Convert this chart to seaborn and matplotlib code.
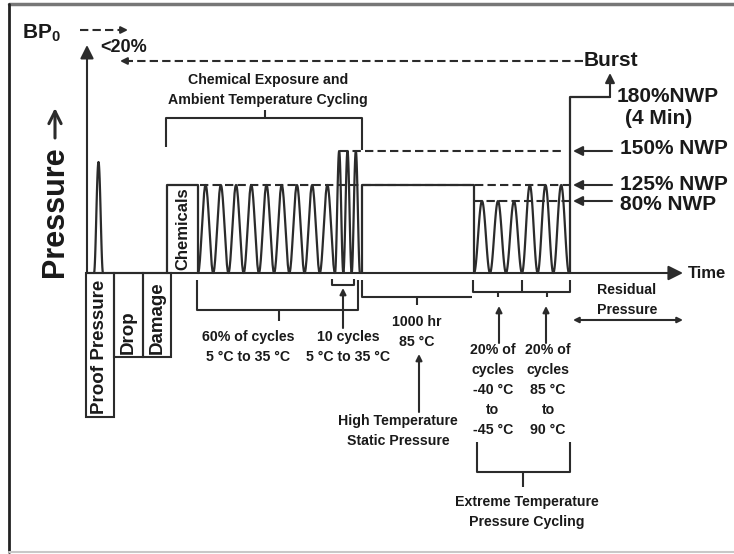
import numpy as np
import pandas as pd
import matplotlib
matplotlib.use("Agg")
import matplotlib.pyplot as plt
import seaborn as sns
from matplotlib.patches import Rectangle

sns.set_theme(style="white")
plt.rcParams["font.family"] = ["Liberation Sans", "DejaVu Sans"]

INK = "#2b2b2b"

# schematic pressure levels (height above the time axis)
level_labels = ["150% NWP", "125% NWP", "80% NWP"]
level_heights = [122, 88, 72]
peak_180 = 176
burst_level = 212
bp0_level = 243
proof_peak = 111

# cycling phases: start / end on the time axis, number of cycles, peak level
phase_names = ["60% of cycles", "10 cycles", "-40 to -45", "85 to 90"]
phase_start = [111, 248, 387, 435]
phase_end = [248, 273, 435, 482]
phase_cycles = [9, 3, 3, 3]
phase_peak = [88, 122, 72, 88]

# flat phases (chemicals exposure, 1000 hr static pressure)
block_names = ["Chemicals", "1000 hr"]
block_start = [80, 275]
block_end = [111, 387]
block_level = [88, 88]

proof_start, proof_end = 7, 16
burst_t, burst_end = 483, 523

# label boxes below the time axis
box_labels = ["Proof Pressure", "Drop", "Damage"]
box_left = [-1, 27, 56]
box_right = [27, 56, 84]
box_depth = [144, 84, 84]


def cycles(start, end, n, peak):
    t = np.linspace(start, end, n * 40 + 1)
    p = peak * (1 - np.cos(2 * np.pi * n * (t - start) / (end - start))) / 2
    return t, p


def main():
    fig = plt.figure(figsize=(7.34, 5.54), dpi=100)
    ax = fig.add_axes([0, 0, 1, 1])

    # pressure trace
    segs = []
    t, p = cycles(proof_start, proof_end, 1, proof_peak)
    segs.append(pd.DataFrame({"t": t, "p": p, "seg": "proof"}))
    for name, s, e, n, pk in zip(phase_names, phase_start, phase_end, phase_cycles, phase_peak):
        t, p = cycles(s, e, n, pk)
        segs.append(pd.DataFrame({"t": t, "p": p, "seg": name}))
    for name, s, e, lv in zip(block_names, block_start, block_end, block_level):
        segs.append(pd.DataFrame({"t": [s, s, e, e], "p": [0, lv, lv, 0], "seg": name}))
    segs.append(pd.DataFrame({"t": [burst_t, burst_t, burst_end],
                              "p": [0, peak_180, peak_180], "seg": "burst"}))
    trace = pd.concat(segs, ignore_index=True)
    sns.lineplot(data=trace, x="t", y="p", units="seg", estimator=None, sort=False,
                 color=INK, lw=1.6, ax=ax, legend=False)

    ax.set_xlim(-87, 647)
    ax.set_ylim(-281, 273)
    ax.axis("off")

    def X(px):
        return px - 87

    def Y(py):
        return 273 - py

    def line(xs, ys, **kw):
        kw.setdefault("color", INK)
        kw.setdefault("lw", 1.5)
        ax.plot([X(v) for v in xs], [Y(v) for v in ys], solid_capstyle="butt", **kw)

    def arrow(x0, y0, x1, y1, style="-|>", ms=12, lw=1.5):
        ax.annotate("", xy=(x1, y1), xytext=(x0, y0),
                    arrowprops=dict(arrowstyle=style, color=INK, lw=lw,
                                    mutation_scale=ms, shrinkA=0, shrinkB=0))

    def text(px, py_first, s, step=20):
        for i, ln in enumerate(s.split("\n")):
            ax.text(X(px), Y(py_first + i * step), ln, fontsize=10.2, fontweight="bold",
                    color="#1a1a1a", ha="center", va="center")

    def big(x, y, s, size=15, **kw):
        kw.setdefault("ha", "left")
        kw.setdefault("va", "center")
        ax.text(x, y, s, fontsize=size, fontweight="bold", color="#1a1a1a", **kw)

    # axes
    arrow(0, 0, 0, 228, ms=20)
    arrow(-1, 0, 596, 0, ms=22)

    # dashed reference levels
    dash = dict(ls=(0, (4, 2)), lw=1.5, color=INK)
    ax.plot([113, 483], [level_heights[1]] * 2, **dash)
    ax.plot([253, 478], [level_heights[0]] * 2, **dash)
    ax.plot([387, 483], [level_heights[2]] * 2, **dash)
    ax.plot([496, 40], [burst_level] * 2, **dash)
    arrow(42, burst_level, 33, burst_level, ms=10)
    ax.plot([-7, 34], [bp0_level] * 2, **dash)
    arrow(32, bp0_level, 41, bp0_level, ms=10)

    # burst arrow
    arrow(burst_end, peak_180, burst_end, burst_level - 12, ms=14)

    # right-hand level arrows and labels
    for lab, h, dy in zip(level_labels, level_heights, [2, 0, -4]):
        arrow(525, h, 486, h, ms=14)
        big(533, h + dy, lab)
    big(530, peak_180, "180%NWP")
    big(538, peak_180 - 22, "(4 Min)")
    big(497, burst_level + 1, "Burst")
    big(-65, bp0_level - 3, r"BP$_\mathregular{0}$")
    big(13, 225, "<20%", size=13)
    big(601, 0, "Time", size=12)

    # y axis title with its arrow
    big(-32, -4, "Pressure", size=22, rotation=90, ha="center", va="bottom")
    ax.annotate("", xy=(X(55), Y(108)), xytext=(X(55), Y(138)),
                arrowprops=dict(arrowstyle="->", color=INK, lw=2.2, mutation_scale=22,
                                shrinkA=0, shrinkB=0))

    # chemicals label inside its block
    ax.text((block_start[0] + block_end[0]) / 2, block_level[0] / 2, block_names[0],
            fontsize=12, fontweight="bold", color="#1a1a1a", rotation=90,
            ha="center", va="center")

    # boxes under the axis
    for lab, l, r, d in zip(box_labels, box_left, box_right, box_depth):
        ax.add_patch(Rectangle((l, -d), r - l, d, fill=False, ec=INK, lw=1.5))
        ax.text((l + r) / 2, -d + 3, lab, fontsize=13.5, fontweight="bold",
                color="#1a1a1a", rotation=90, ha="center", va="bottom")

    # top bracket
    line([166, 166, 362, 362], [147, 118, 118, 150])
    line([265, 265], [110, 118])
    text(268, 80, "Chemical Exposure and\nAmbient Temperature Cycling")

    # 60% cycles bracket
    line([197, 197, 358, 358], [280, 310, 310, 280])
    line([279, 279], [310, 321])
    text(248, 337, "60% of cycles\n5 \u00b0C to 35 \u00b0C")

    # 10 cycles bracket
    line([332, 332, 354, 354], [279, 285, 285, 279])
    arrow(X(343), Y(328), X(343), Y(288), ms=9)
    text(348, 337, "10 cycles\n5 \u00b0C to 35 \u00b0C")

    # 1000 hr bracket
    line([362, 362, 472], [280, 297, 297])
    line([417, 417], [297, 305])
    text(417, 322, "1000 hr\n85 \u00b0C")
    arrow(X(419), Y(412), X(419), Y(354), ms=9)
    text(398, 421, "High Temperature\nStatic Pressure")

    # extreme temperature brackets
    line([473, 473, 570, 570], [280, 292, 292, 280])
    line([522, 522], [280, 292])
    line([498, 498], [292, 297])
    line([547, 547], [292, 297])
    arrow(X(499), Y(343), X(499), Y(306), ms=9)
    arrow(X(546), Y(343), X(546), Y(306), ms=9)
    text(493, 350, "20% of\ncycles\n-40 \u00b0C\nto\n-45 \u00b0C")
    text(548, 350, "20% of\ncycles\n85 \u00b0C\nto\n90 \u00b0C")

    line([477, 477, 570, 570], [442, 472, 472, 442])
    line([523, 523], [472, 487])
    text(527, 502, "Extreme Temperature\nPressure Cycling")

    # residual pressure
    text(627, 290, "Residual\nPressure")
    arrow(X(600), Y(320), X(573), Y(320), ms=8)
    arrow(X(600), Y(320), X(683), Y(320), ms=8)

    # picture frame
    fig.add_artist(plt.Line2D([9 / 734, 1], [1 - 4 / 554] * 2,
                              transform=fig.transFigure, color="#777777", lw=2.5))
    fig.add_artist(plt.Line2D([9 / 734, 9 / 734], [1 - 552 / 554, 1 - 4 / 554],
                              transform=fig.transFigure, color="#222222", lw=2))
    fig.add_artist(plt.Line2D([9 / 734, 1], [1 - 552 / 554] * 2,
                              transform=fig.transFigure, color="#c8c8c8", lw=1.5))

    fig.savefig("out.png", dpi=100, facecolor="white")


if __name__ == "__main__":
    main()
